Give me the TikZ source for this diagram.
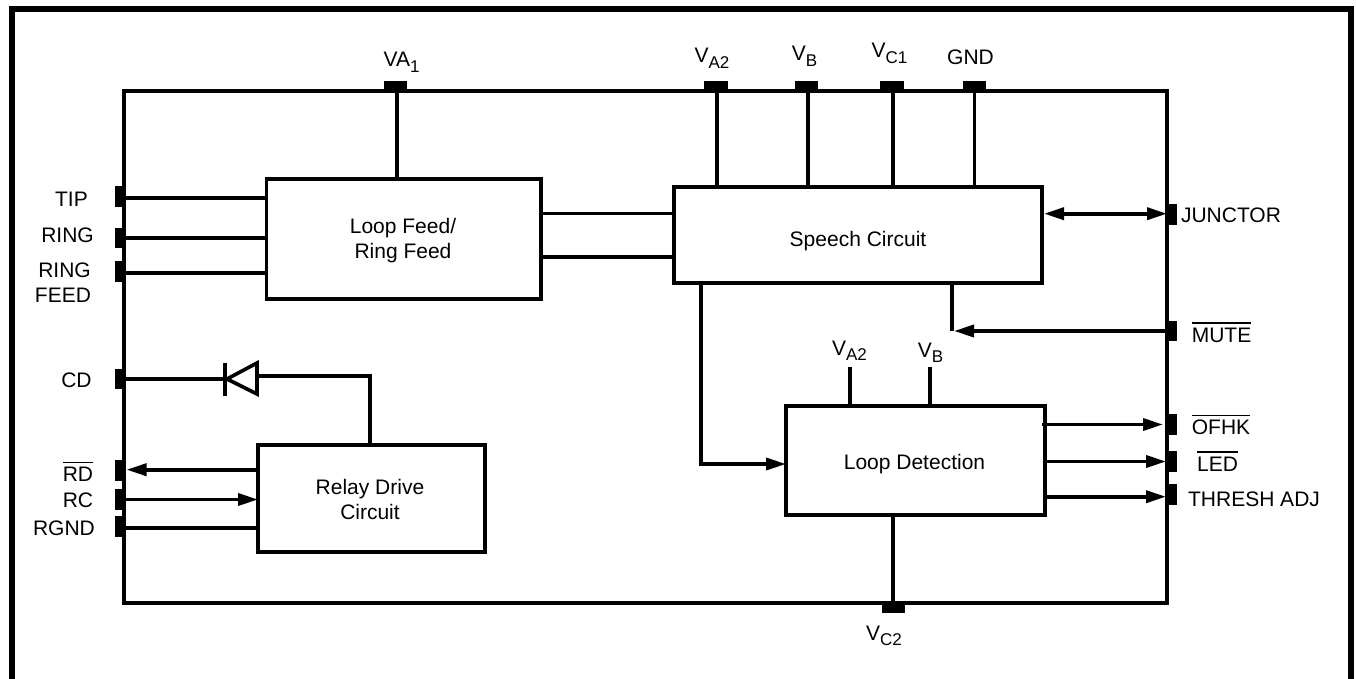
\documentclass[tikz,border=0pt]{standalone}
\usepackage{fontspec}
\setmainfont{Liberation Sans}
\usetikzlibrary{arrows.meta}
\newcommand\vsub[2]{#1\raisebox{-5.5pt}{\fontsize{17}{17}\selectfont #2}}
\newcommand\ovl[1]{\setbox0\hbox{#1}\rlap{\raisebox{\dimexpr\ht0+4pt\relax}{\rule{\wd0}{1.5pt}}}\box0 }
\tikzset{
  x=1pt,y=-1pt,
  wire/.style={line width=3.6pt,line cap=butt},
  arw/.style={wire,-{Triangle[length=20pt,width=12pt]}},
  darw/.style={wire,{Triangle[length=20pt,width=12pt]}-{Triangle[length=20pt,width=12pt]}},
  block/.style={draw,line width=3.6pt,inner sep=0,outer sep=0,minimum width=#1},
  pinv/.style={fill=black,draw=none,inner sep=0,outer sep=0,minimum width=10pt,minimum height=20.5pt},
  pinh/.style={fill=black,draw=none,inner sep=0,outer sep=0,minimum width=23.5pt,minimum height=10pt},
  txt/.style={inner sep=0,outer sep=0,anchor=base,font=\fontsize{21}{25}\selectfont},
}
\begin{document}
\begin{tikzpicture}
\useasboundingbox (0,0) rectangle (1356,679);
% outer frame
\draw[line width=6pt] (12,679) -- (12,9) -- (1351,9) -- (1351,679);
% chip outline
\node[block=1043pt,minimum height=512pt] (chip) at (645.5,347) {};
% blocks
\node[block=274.5pt,minimum height=119.7pt] (feed) at (403.7,238.85) {};
\node[block=368pt,minimum height=96pt] (speech) at (858,234.85) {};
\node[block=259pt,minimum height=109pt] (detect) at (915.5,460.5) {};
\node[block=227pt,minimum height=107pt] (relay) at (371.5,498.5) {};
% block texts
\node[txt,align=center] (feedA) at (403,258.5) {Loop Feed/\\Ring Feed};
\node[txt] (speechT) at (858,246) {Speech Circuit};
\node[txt] (detectT) at (914.5,469) {Loop Detection};
\node[txt,align=center] (relayT) at (370,519) {Relay Drive\\Circuit};
% left pins
\node[pinv] (pTIP) at (119.5,196.5) {};
\node[pinv] (pRING) at (119.5,238) {};
\node[pinv] (pRF) at (119.5,271.5) {};
\node[pinv] (pCD) at (119.5,379) {};
\node[pinv] (pRD) at (119.5,470.5) {};
\node[pinv] (pRC) at (119.5,499.5) {};
\node[pinv] (pRG) at (119.5,526.5) {};
% right pins
\node[pinv] (pJ) at (1172,214.5) {};
\node[pinv] (pM) at (1172,331) {};
\node[pinv] (pO) at (1172,424.5) {};
\node[pinv] (pL) at (1172,461.5) {};
\node[pinv] (pT) at (1172,494.5) {};
% top and bottom pins
\node[pinh] (pVA1) at (395.5,86) {};
\node[pinh] (pVA2) at (716,86) {};
\node[pinh] (pVB) at (806.5,86) {};
\node[pinh] (pVC1) at (892,86) {};
\node[pinh] (pGND) at (974.5,86) {};
\node[pinh] (pVC2) at (893.5,608) {};
% wire ends offset from the pin centres
\coordinate (wTIP) at ([yshift=-1.2pt]pTIP.east);
\coordinate (wRF) at ([yshift=-1.2pt]pRF.east);
\coordinate (wRD) at ([xshift=2pt,yshift=0.8pt]pRD.east);
\coordinate (wRG) at ([yshift=-1.2pt]pRG.east);
\coordinate (wJ) at ([yshift=0.8pt]pJ.west);
\coordinate (wO) at ([xshift=-4pt]pO.west);
\coordinate (wL) at ([xshift=-1pt]pL.west);
\coordinate (wT) at ([xshift=-1pt,yshift=-2.2pt]pT.west);
\coordinate (wVA1) at ([xshift=1.5pt]pVA1.south);
\coordinate (wVA2) at ([xshift=1pt]pVA2.south);
\coordinate (wVB) at ([xshift=1.5pt]pVB.south);
\coordinate (wVC1) at ([xshift=1pt]pVC1.south);
\coordinate (wVC2) at ([xshift=-0.5pt]pVC2.north);
% wires left
\draw[wire] (wTIP) -- (wTIP -| feed.west);
\draw[wire] (pRING.east) -- (pRING.east -| feed.west);
\draw[wire] (wRF) -- (wRF -| feed.west);
\draw[arw] (wRD -| relay.west) -- (wRD);
\draw[arw] (pRC.east) -- (pRC.east -| relay.west);
\draw[wire] (wRG) -- (wRG -| relay.west);
% top wires
\draw[wire] (wVA1) -- (wVA1 |- feed.north);
\draw[wire] (wVA2) -- (wVA2 |- speech.north);
\draw[wire] (wVB) -- (wVB |- speech.north);
\draw[wire] (wVC1) -- (wVC1 |- speech.north);
\draw[wire] (pGND.south) -- (pGND.south |- speech.north);
\draw[wire] (wVC2) -- (wVC2 |- detect.south);
% feed to speech
\coordinate (fs1) at ([yshift=25.3pt]feed.east);
\coordinate (fs2) at ([yshift=-18.2pt]feed.east);
\draw[wire] (fs1) -- (fs1 -| speech.west);
\draw[wire] (fs2) -- (fs2 -| speech.west);
% right side
\draw[darw] ([xshift=2pt]wJ -| speech.east) -- (wJ);
\coordinate (mC) at (952,331);
\draw[wire] (mC |- speech.south) -- (mC);
\draw[arw] (pM.west) -- ([xshift=2pt]mC);
\coordinate (sd) at (701,464);
\draw[wire] (sd |- speech.south) -- (sd);
\draw[arw] ([xshift=-1.8pt]sd) -- (sd -| detect.west);
\draw[arw] (wO -| detect.east) ++(-3,0) -- (wO);
\draw[arw] (wL -| detect.east) -- (wL);
\draw[arw] (wT -| detect.east) -- (wT);
% free supply stubs on detection block
\coordinate (iVA2) at (850,367);
\coordinate (iVB) at (930,367);
\draw[wire] (iVA2) -- (iVA2 |- detect.north);
\draw[wire] (iVB) -- (iVB |- detect.north);
% diode
\coordinate (dTip) at (227,379);
\coordinate (dTop) at (257,363);
\coordinate (dBot) at (257,394);
\coordinate (dAn) at (257,376);
\coordinate (dCt) at (225,363);
\coordinate (dCb) at (225,396);
\coordinate (rUp) at (370,376);
\draw[wire] (pCD.east) -- (pCD.east -| dCt);
\draw[wire] (dCt) -- (dCb);
\draw[wire,line join=miter] (dTip) -- (dTop) -- (dBot) -- cycle;
\draw[wire] (rUp |- relay.north) -- (rUp) -- (dAn);
% pin labels
\node[txt] (lTIP) at (71.5,206) {TIP};
\node[txt] (lRING) at (67.5,242.7) {RING};
\node[txt] (lRF1) at (64.5,277.7) {RING};
\node[txt] (lRF2) at (63,302.7) {FEED};
\node[txt] (lCD) at (76.5,387.3) {CD};
\node[txt] (lRD) at (78,481.7) {\ovl{RD}};
\node[txt] (lRC) at (78,507.7) {RC};
\node[txt] (lRG) at (64,535.7) {RGND};
\node[txt] (lJ) at (1231,222.3) {JUNCTOR};
\node[txt] (lM) at (1221.5,342.3) {\ovl{MUTE}};
\node[txt] (lO) at (1221,434.7) {\ovl{OFHK}};
\node[txt] (lL) at (1217.5,471) {\ovl{LED}};
\node[txt] (lT) at (1254,506.7) {THRESH ADJ};
\node[txt] (lVA1) at (401.5,67) {\vsub{VA}{1}};
\node[txt] (lVA2) at (712,63) {\vsub{V}{A2}};
\node[txt] (lVB) at (804.5,60.7) {\vsub{V}{B}};
\node[txt] (lVC1) at (889.5,58) {\vsub{V}{C1}};
\node[txt] (lGND) at (970.5,65) {GND};
\node[txt] (lVC2) at (884,640) {\vsub{V}{C2}};
\node[txt] (lIVA2) at (849.5,355) {\vsub{V}{A2}};
\node[txt] (lIVB) at (930.5,357) {\vsub{V}{B}};
\end{tikzpicture}
\end{document}
